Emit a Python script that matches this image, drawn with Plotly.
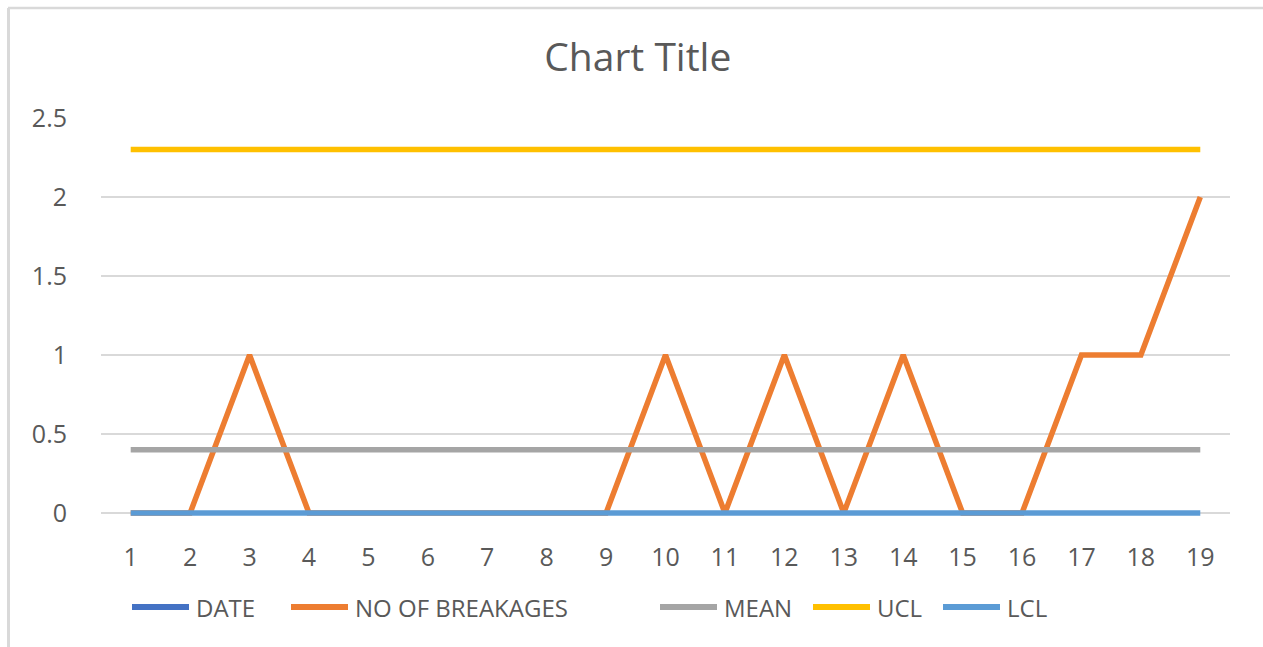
import plotly.graph_objects as go

# ---- data -------------------------------------------------------------
samples = [str(i) for i in range(1, 20)]
date_values = [None] * 19
breakages = [0, 0, 1, 0, 0, 0, 0, 0, 0, 1, 0, 1, 0, 1, 0, 0, 1, 1, 2]
mean_values = [0.4] * 19
ucl_values = [2.3] * 19
lcl_values = [0] * 19
y_ticks = [0, 0.5, 1, 1.5, 2, 2.5]
y_tick_text = ["0", "0.5", "1", "1.5", "2", "2.5"]

series_names = ["DATE", "NO OF BREAKAGES", "MEAN", "UCL", "LCL"]
series_values = [date_values, breakages, mean_values, ucl_values, lcl_values]
series_colors = ["#4472C4", "#ED7D31", "#A5A5A5", "#FFC000", "#5B9BD5"]

# ---- layout constants (pixels) ---------------------------------------
W, H = 1263, 647
ML, MR, MT, MB = 101, 33, 118, 130
PX_PER_UNIT = 158            # vertical pixels per y unit
Y_MIN = -4 / PX_PER_UNIT     # small pad below zero so the LCL stroke isn't cut
TEXT = "#595959"
FONT = "Open Sans"


def px_x(x):
    return (x - ML) / (W - ML - MR)


def px_y(y):
    return 1 - (y - MT) / (H - MT - MB)


fig = go.Figure()
for name, vals, color in zip(series_names, series_values, series_colors):
    fig.add_trace(go.Scatter(
        x=samples, y=vals, name=name, mode="lines",
        line=dict(color=color, width=5.5),
        cliponaxis=False, showlegend=False,
    ))

# legend drawn as line swatches + labels below the plot
legend_starts = [129, 288, 657, 810, 940]
legend_y = 607
shapes = []
annotations = []
for name, color, x0 in zip(series_names, series_colors, legend_starts):
    shapes.append(dict(type="line", xref="paper", yref="paper",
                       x0=px_x(x0 + 3), x1=px_x(x0 + 60),
                       y0=px_y(legend_y), y1=px_y(legend_y),
                       line=dict(color=color, width=6)))
    annotations.append(dict(xref="paper", yref="paper", x=px_x(x0 + 65),
                            y=px_y(legend_y), xanchor="left", yanchor="middle",
                            text=name, showarrow=False,
                            font=dict(family=FONT, size=24, color=TEXT)))

# chart-area border (top and left edges)
shapes.append(dict(type="line", xref="paper", yref="paper",
                   x0=px_x(8), x1=px_x(W), y0=px_y(8), y1=px_y(8),
                   line=dict(color="#D9D9D9", width=2.5)))
shapes.append(dict(type="line", xref="paper", yref="paper",
                   x0=px_x(8.5), x1=px_x(8.5), y0=px_y(8), y1=px_y(H),
                   line=dict(color="#D9D9D9", width=3)))

fig.update_layout(
    width=W, height=H,
    margin=dict(l=ML, r=MR, t=MT, b=MB, pad=0),
    paper_bgcolor="white", plot_bgcolor="white",
    title=dict(text="Chart Title", x=0.505, xanchor="center",
               y=1 - 57 / H, yanchor="middle",
               font=dict(family=FONT, size=39, color=TEXT)),
    xaxis=dict(type="category", range=[-0.5, 18.5], showgrid=False,
               zeroline=False, showline=False,
               ticks="outside", ticklen=18, tickcolor="rgba(0,0,0,0)",
               tickfont=dict(family=FONT, size=25, color=TEXT)),
    yaxis=dict(range=[Y_MIN, 2.5], tickvals=y_ticks, ticktext=y_tick_text,
               showgrid=True, gridcolor="#D9D9D9", gridwidth=2,
               zeroline=False, showline=False,
               ticks="outside", ticklen=28, tickcolor="rgba(0,0,0,0)",
               tickfont=dict(family=FONT, size=25, color=TEXT)),
    shapes=shapes, annotations=annotations,
    showlegend=False,
)

fig.write_html("out.html")
